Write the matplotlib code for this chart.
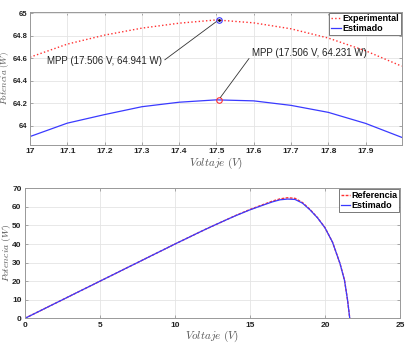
import matplotlib
matplotlib.use("Agg")
import matplotlib.pyplot as plt

# top plot: zoom around the MPP
v_zoom = [17.0, 17.1, 17.2, 17.3, 17.4, 17.5, 17.6, 17.7, 17.8, 17.9, 17.997]
p_exp_zoom = [64.61, 64.726, 64.806, 64.868, 64.912, 64.941, 64.915, 64.862, 64.78, 64.667, 64.53]
p_est_zoom = [63.905, 64.024, 64.10, 64.17, 64.21, 64.231, 64.222, 64.182, 64.12, 64.022, 63.898]
mpp_v = 17.506
mpp_exp = 64.941
mpp_est = 64.231

# bottom plot: full P-V curve
v_full = [0, 2, 4, 6, 8, 10, 12, 13, 14, 15, 16, 16.5, 17, 17.5, 18, 18.5,
          19, 19.5, 20, 20.5, 21, 21.3, 21.5, 21.65]
p_ref_full = [0, 8, 16, 24, 32, 40, 47.8, 51.5, 55.2, 58.6, 61.6, 63.1, 64.3, 64.9, 64.6, 62.3,
              58.6, 54.2, 48.8, 41.0, 29.5, 20.5, 10.0, 0]
p_est_full = [0, 8, 16, 24, 32, 40, 47.8, 51.5, 55.1, 58.4, 61.3, 62.7, 63.8, 64.2, 64.0, 62.0,
              58.4, 54.1, 48.7, 41.0, 29.5, 20.5, 10.0, 0]

plt.rcParams['font.family'] = ['Liberation Sans', 'DejaVu Sans']
plt.rcParams['mathtext.fontset'] = 'cm'

red = '#ff3030'
blue = '#3a3aff'
lab_col = '#555555'

fig = plt.figure(figsize=(4.17, 3.47), dpi=100)
ax1 = fig.add_axes([30/417, 1-145/347, (401.7-30)/417, (145-11.7)/347])
ax2 = fig.add_axes([25/417, 1-318.3/347, (400-25)/417, (318.3-188.3)/347])

def style(ax):
    ax.grid(True, color='#e4e4e4', lw=0.6)
    ax.set_axisbelow(True)
    ax.tick_params(direction='in', length=2, width=0.5, top=True, right=True,
                   labelsize=6, colors='#888888', labelcolor='#222222', pad=2.5)
    for lbl in ax.get_xticklabels() + ax.get_yticklabels():
        lbl.set_fontweight('bold')
    for s in ax.spines.values():
        s.set_color('#999999')
        s.set_linewidth(0.7)

ax1.plot(v_zoom, p_exp_zoom, ':', color=red, lw=1.0, label='Experimental')
ax1.plot(v_zoom, p_est_zoom, '-', color=blue, lw=0.9, label='Estimado')
ax1.plot([mpp_v], [mpp_exp], 'o', mfc='none', mec=blue, ms=4, mew=0.8)
ax1.plot([mpp_v], [mpp_exp], '.', color='black', ms=2)
ax1.plot([mpp_v], [mpp_est], 'o', mfc='none', mec=red, ms=4, mew=0.8)
ax1.annotate('MPP (17.506 V, 64.941 W)', xy=(mpp_v, mpp_exp), xytext=(17.354, 64.577),
             ha='right', va='center', fontsize=7, color='#222222',
             arrowprops=dict(arrowstyle='-', color='#333333', lw=0.6, shrinkA=0, shrinkB=2,
                             relpos=(1, 0.4)))
ax1.annotate('MPP (17.506 V, 64.231 W)', xy=(mpp_v, mpp_est), xytext=(17.595, 64.65),
             ha='left', va='center', fontsize=7, color='#222222',
             arrowprops=dict(arrowstyle='-', color='#333333', lw=0.6, shrinkA=0, shrinkB=2,
                             relpos=(0, 0.3)))
ax1.set_xlim(17, 17.997)
ax1.set_ylim(63.83, 65.014)
ax1.set_xticks([17, 17.1, 17.2, 17.3, 17.4, 17.5, 17.6, 17.7, 17.8, 17.9])
ax1.set_xticklabels(['17', '17.1', '17.2', '17.3', '17.4', '17.5', '17.6', '17.7', '17.8', '17.9'])
ax1.set_yticks([64, 64.2, 64.4, 64.6, 64.8, 65])
ax1.set_yticklabels(['64', '64.2', '64.4', '64.6', '64.8', '65'])
ax1.set_xlabel(r'$Voltaje\ (V)$', fontsize=8, color=lab_col, labelpad=0)
ax1.set_ylabel(r'$Potencia\ (W)$', fontsize=6.5, color=lab_col)
ax1.yaxis.set_label_coords(-0.05, 0.5)
style(ax1)
ax1.tick_params(axis='y', labelsize=5.5, pad=2)
leg1 = ax1.legend(loc='upper right', prop={'weight': 'bold', 'size': 6.5},
                  handlelength=1.2, handletextpad=0.1, borderpad=0.2, labelspacing=0.1,
                  fancybox=False, framealpha=1, borderaxespad=0.1)
leg1.get_frame().set_edgecolor('#444444')
leg1.get_frame().set_linewidth(0.5)

ax2.plot(v_full, p_ref_full, '--', dashes=(2, 1), color=red, lw=1.0, label='Referencia')
ax2.plot(v_full, p_est_full, '-', color=blue, lw=0.9, label='Estimado')
ax2.set_xlim(0, 25)
ax2.set_ylim(0, 70)
ax2.set_xticks([0, 5, 10, 15, 20, 25])
ax2.set_yticks([0, 10, 20, 30, 40, 50, 60, 70])
ax2.set_xlabel(r'$Voltaje\ (V)$', fontsize=8, color=lab_col, labelpad=0)
ax2.set_ylabel(r'$Potencia\ (W)$', fontsize=7, color=lab_col)
ax2.yaxis.set_label_coords(-0.033, 0.5)
style(ax2)
leg2 = ax2.legend(loc='upper right', prop={'weight': 'bold', 'size': 6.5},
                  handlelength=1.0, handletextpad=0.1, borderpad=0.2, labelspacing=0.1,
                  fancybox=False, framealpha=1, borderaxespad=0.1)
leg2.get_frame().set_edgecolor('#444444')
leg2.get_frame().set_linewidth(0.5)

fig.savefig('out.png', dpi=100)
